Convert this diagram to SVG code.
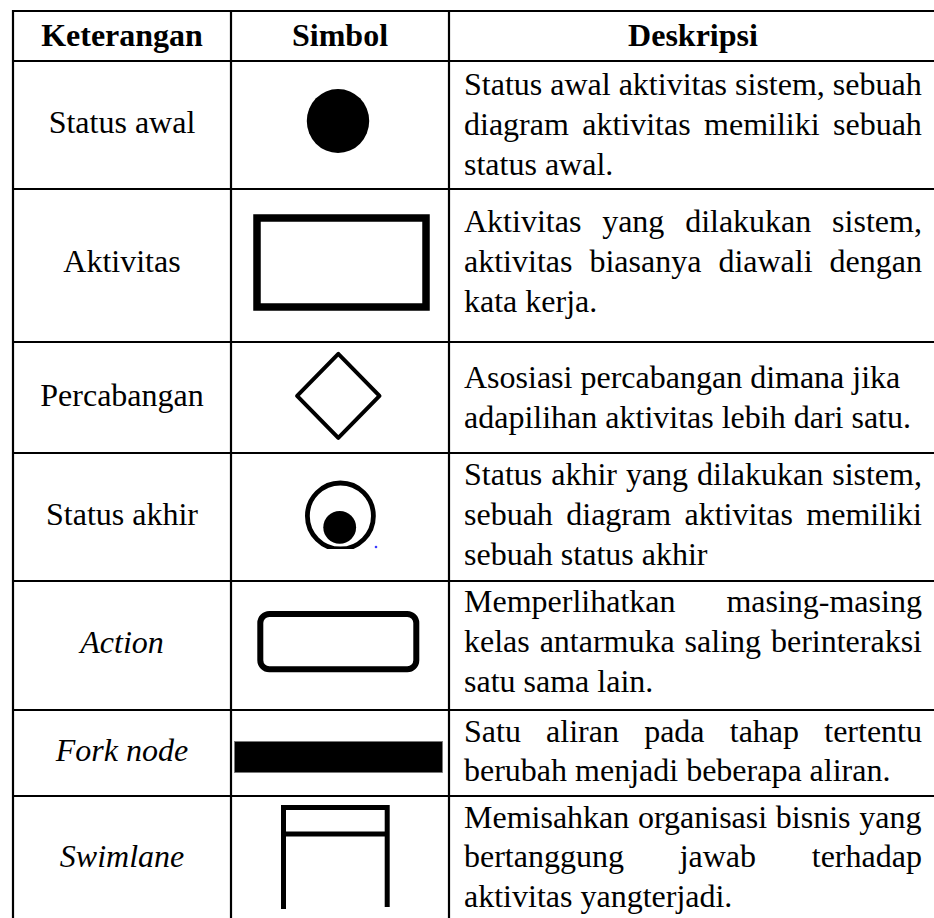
<svg xmlns="http://www.w3.org/2000/svg" width="934" height="918" viewBox="0 0 934 918">
<style>
  .t { font-family: "Liberation Serif", "Times New Roman", serif; font-size: 32px; fill: #000; }
  .h { font-weight: bold; text-anchor: middle; }
  .c { text-anchor: middle; }
  .i { font-style: italic; }
  .grid line { stroke: #000; stroke-width: 2.2; }
  .sym { fill: none; stroke: #000; }
</style>
<defs>
  <clipPath id="clipEnd"><rect x="290" y="470" width="100" height="79"/></clipPath>
</defs>
<rect width="934" height="918" fill="#fff"/>

<g id="grid" class="grid">
  <line x1="13" y1="11" x2="934" y2="11"/>
  <line x1="13" y1="61" x2="934" y2="61"/>
  <line x1="13" y1="189" x2="934" y2="189"/>
  <line x1="13" y1="342" x2="934" y2="342"/>
  <line x1="13" y1="453" x2="934" y2="453"/>
  <line x1="13" y1="581" x2="934" y2="581"/>
  <line x1="13" y1="710" x2="934" y2="710"/>
  <line x1="13" y1="796" x2="934" y2="796"/>
  <line x1="13" y1="10" x2="13" y2="918"/>
  <line x1="231" y1="10" x2="231" y2="918"/>
  <line x1="449" y1="10" x2="449" y2="918"/>
</g>

<g id="header">
  <text class="t h" x="122" y="46">Keterangan</text>
  <text class="t h" x="340" y="46">Simbol</text>
  <text class="t h" x="693" y="46">Deskripsi</text>
</g>

<g id="status-awal">
  <text class="t c" x="122" y="133">Status awal</text>
  <ellipse cx="338" cy="121" rx="31.2" ry="32" fill="#000"/>
  <text class="t" x="464" y="95">Status awal aktivitas sistem, sebuah</text>
  <text class="t" x="464" y="135" word-spacing="5.4">diagram aktivitas memiliki sebuah</text>
  <text class="t" x="464" y="175">status awal.</text>
</g>

<g id="aktivitas">
  <text class="t c" x="122" y="272">Aktivitas</text>
  <rect class="sym" x="257" y="218" width="169" height="89" stroke-width="7.5"/>
  <text class="t" x="464" y="232" word-spacing="12.8">Aktivitas yang dilakukan sistem,</text>
  <text class="t" x="464" y="272" word-spacing="9">aktivitas biasanya diawali dengan</text>
  <text class="t" x="464" y="312">kata kerja.</text>
</g>

<g id="percabangan">
  <text class="t c" x="122" y="406">Percabangan</text>
  <polygon class="sym" points="338.3,353.8 379.5,395.8 338.3,437.9 297.1,395.8" stroke-width="4" stroke-linejoin="round"/>
  <text class="t" x="464" y="388">Asosiasi percabangan dimana jika</text>
  <text class="t" x="464" y="428">adapilihan aktivitas lebih dari satu.</text>
</g>

<g id="status-akhir">
  <text class="t c" x="122" y="525">Status akhir</text>
  <g clip-path="url(#clipEnd)">
    <circle class="sym" cx="340.4" cy="516" r="33" stroke-width="4.8"/>
    <circle cx="339.7" cy="527.3" r="16.4" fill="#000"/>
  </g>
  <circle cx="376" cy="547" r="1.3" fill="#3b3bff"/>
  <text class="t" x="464" y="485" word-spacing="0.95">Status akhir yang dilakukan sistem,</text>
  <text class="t" x="464" y="525" word-spacing="5.4">sebuah diagram aktivitas memiliki</text>
  <text class="t" x="464" y="565">sebuah status akhir</text>
</g>

<g id="action">
  <text class="t c i" x="122" y="653">Action</text>
  <rect class="sym" x="260.3" y="614" width="156" height="55.3" rx="9" stroke-width="6"/>
  <text class="t" x="464" y="612" word-spacing="42.9">Memperlihatkan masing-masing</text>
  <text class="t" x="464" y="652" word-spacing="1.9">kelas antarmuka saling berinteraksi</text>
  <text class="t" x="464" y="692">satu sama lain.</text>
</g>

<g id="fork-node">
  <text class="t c i" x="122" y="761">Fork node</text>
  <rect x="234.5" y="741.5" width="208" height="31" fill="#000" stroke="#777" stroke-width="0.8"/>
  <text class="t" x="464" y="742" word-spacing="17.2">Satu aliran pada tahap tertentu</text>
  <text class="t" x="464" y="781">berubah menjadi beberapa aliran.</text>
</g>

<g id="swimlane">
  <text class="t c i" x="122" y="867">Swimlane</text>
  <path class="sym" d="M283.5,805 V909 M387.2,805 V907 M281,807.5 H389.5 M281,834 H389.5" stroke-width="5"/>
  <text class="t" x="464" y="828" word-spacing="0.7">Memisahkan organisasi bisnis yang</text>
  <text class="t" x="464" y="867" word-spacing="47.7">bertanggung jawab terhadap</text>
  <text class="t" x="464" y="907">aktivitas yangterjadi.</text>
</g>
</svg>
